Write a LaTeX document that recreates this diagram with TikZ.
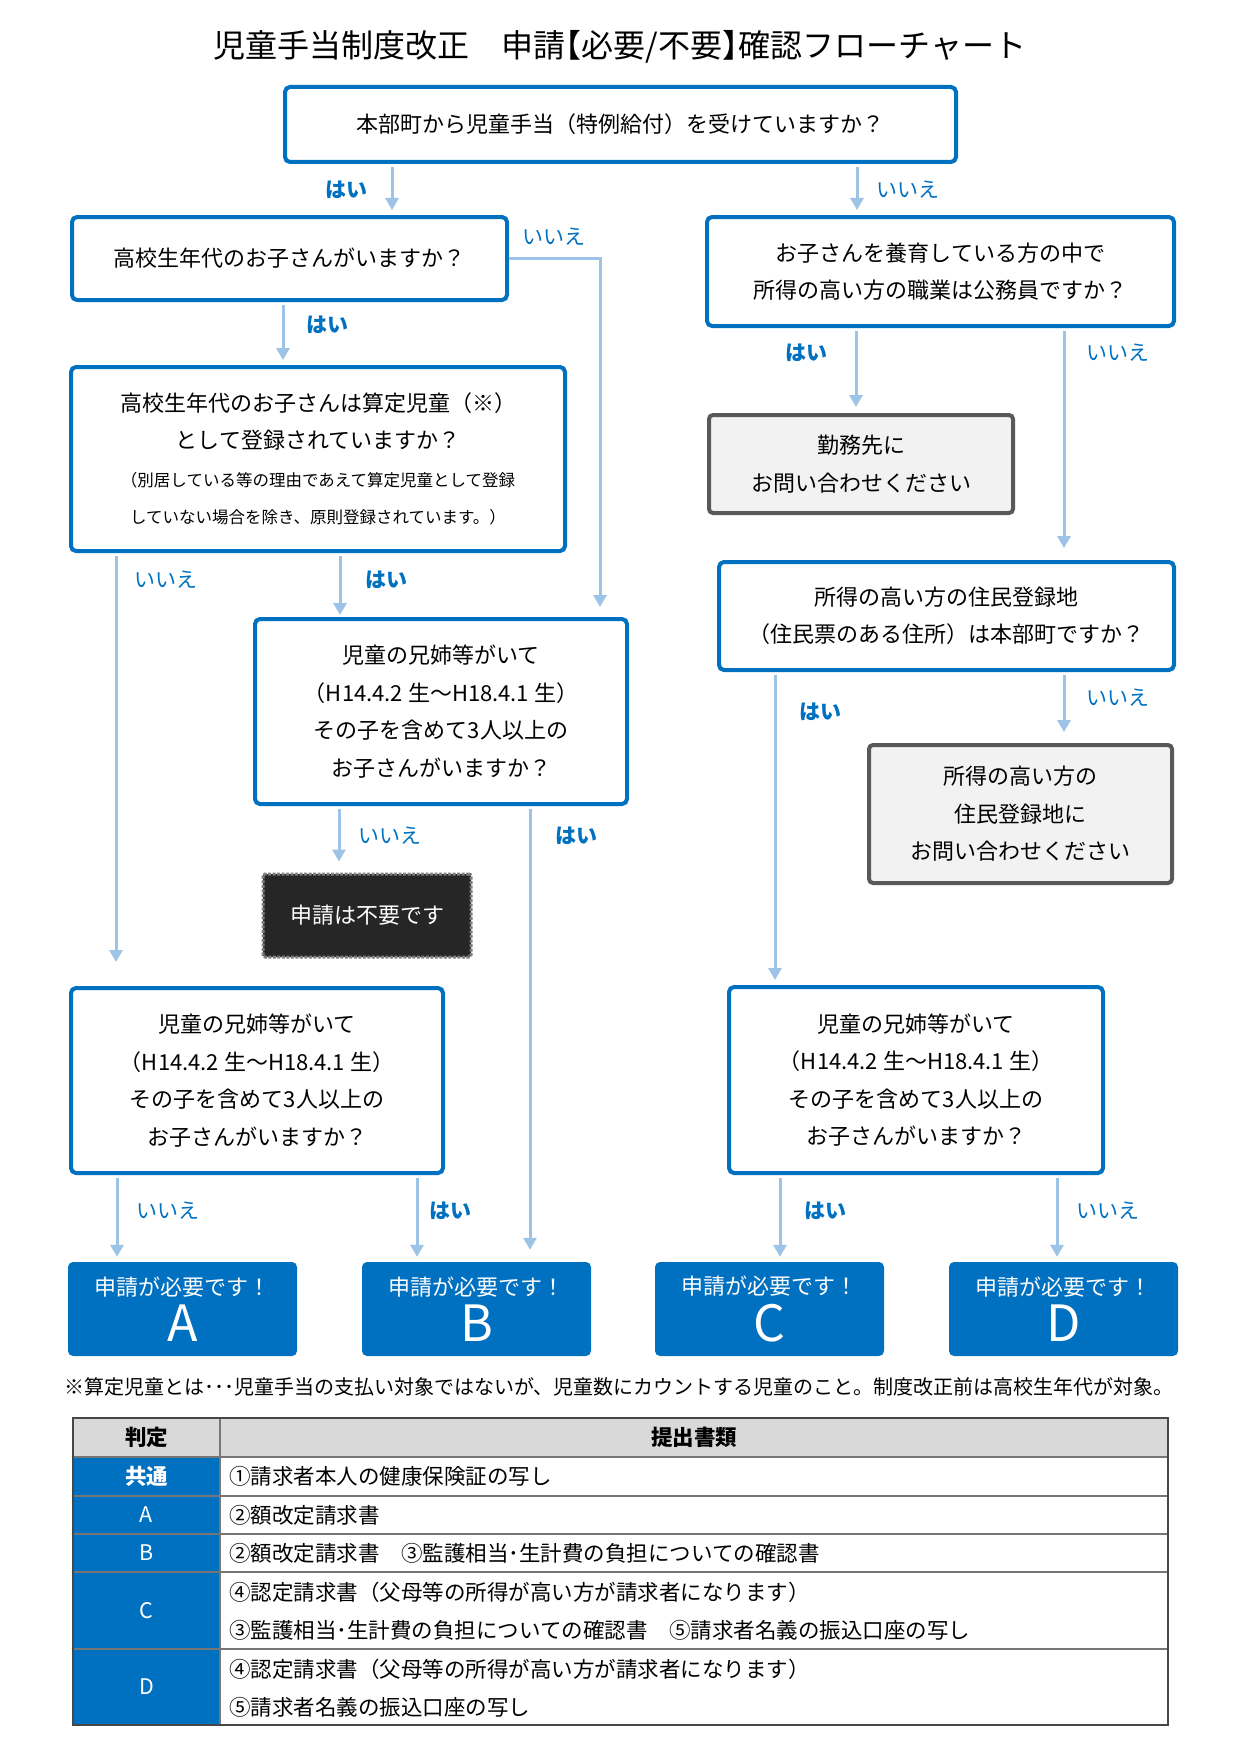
\documentclass[tikz,border=0pt]{standalone}
\usepackage{fontspec}
\setmainfont{Noto Sans CJK JP}
\usepackage{tikz}
\usetikzlibrary{arrows.meta}
\definecolor{qblue}{RGB}{0,112,192}
\definecolor{arrblue}{RGB}{157,195,230}
\definecolor{askline}{RGB}{89,89,89}
\definecolor{askfill}{RGB}{242,242,242}
\definecolor{stopfill}{RGB}{38,38,38}
\definecolor{stopline}{RGB}{127,127,127}
\definecolor{headgray}{RGB}{217,217,217}
\definecolor{rulegray}{RGB}{118,118,118}
\newcommand{\halfw}[1]{{\addfontfeature{RawFeature=+halt}#1}}

\begin{document}
\begin{tikzpicture}[x=1pt,y=-1pt,
  every node/.style={font=\fontsize{22}{37.5}\selectfont,align=center,inner sep=0pt},
  qbox/.style={draw=qblue,line width=4pt,rounded corners=5pt,fill=white},
  askbox/.style={draw=askline,line width=4pt,rounded corners=4pt,fill=askfill},
  stopbox/.style={draw=stopline,fill=stopfill,line width=3pt,dash pattern=on 3pt off 1.5pt,rounded corners=2pt,text=white},
  resbox/.style={fill=qblue,rounded corners=5pt,text=white,minimum width=229pt,minimum height=94pt,font=\fontsize{22}{46.5}\selectfont},
  yeslbl/.style={text=qblue,font=\fontsize{21}{25}\selectfont\bfseries},
  nolbl/.style={text=qblue,font=\fontsize{21}{25}\selectfont},
  arr/.style={arrblue,line width=3pt,-{Triangle[width=13pt,length=12pt]},shorten <=3pt,shorten >=5pt},
  cellL/.style={text=white,font=\fontsize{21.5}{25}\selectfont},
  cellR/.style={anchor=west,align=left,font=\fontsize{21.5}{38}\selectfont}]
  \useasboundingbox (0,0) rectangle (1241,1755);
  \node[font=\fontsize{32}{38}\selectfont] (title) at (620,47) {児童手当制度改正　申請\halfw{【}必要/不要\halfw{】}確認フローチャート};
  % Left column
  \node[qbox,minimum width=671pt,minimum height=75pt] (q1) at (620.5,124.5) {本部町から児童手当（特例給付）を受けていますか？};
  \node[qbox,minimum width=435pt,minimum height=83pt] (q2) at (289.5,258.5) {高校生年代のお子さんがいますか？};
  \node[qbox,minimum width=494pt,minimum height=184pt] (q3) at (318,459) {高校生年代のお子さんは算定児童（※）\\として登録されていますか？\\{\fontsize{16.5}{20}\selectfont（別居している等の理由であえて算定児童として登録}\\{\fontsize{16.5}{20}\selectfont していない場合を除き、原則登録されています。）}};
  \node[qbox,minimum width=372pt,minimum height=185pt] (q4) at (441,711.5) {児童の兄姉等がいて\\（H14.4.2 生～H18.4.1 生）\\その子を含めて3人以上の\\お子さんがいますか？};
  \node[stopbox,minimum width=208pt,minimum height=83pt] (stop) at (367,915.5) {申請は不要です};
  \node[qbox,minimum width=372pt,minimum height=185pt] (q5) at (257,1080.5) {児童の兄姉等がいて\\（H14.4.2 生～H18.4.1 生）\\その子を含めて3人以上の\\お子さんがいますか？};
  % Right column
  \node[qbox,minimum width=467pt,minimum height=109pt] (q6) at (940.5,271.5) {お子さんを養育している方の中で\\所得の高い方の職業は公務員ですか？};
  \node[askbox,minimum width=304pt,minimum height=98pt] (ask1) at (861,464) {勤務先に\\お問い合わせください};
  \node[qbox,minimum width=455pt,minimum height=108pt] (q7) at (946.5,616) {所得の高い方の住民登録地\\（住民票のある住所）は本部町ですか？};
  \node[askbox,minimum width=303pt,minimum height=138pt] (ask2) at (1020.5,814) {所得の高い方の\\住民登録地に\\お問い合わせください};
  \node[qbox,minimum width=374pt,minimum height=186pt] (q8) at (916,1080) {児童の兄姉等がいて\\（H14.4.2 生～H18.4.1 生）\\その子を含めて3人以上の\\お子さんがいますか？};
  % Results
  \foreach \l/\x in {A/182.5,B/476.5,C/769.5,D/1063.5}
    \node[resbox] (res\l) at (\x,1309) {申請が必要です！\\{\fontsize{50}{50}\selectfont \l}};
  % Arrows
  \draw[arr] (q1.south -| 392,0) -- (q2.north -| 392,0);
  \draw[arr] (q1.south -| 857,0) -- (q6.north -| 857,0);
  \draw[arr] (q2.south -| 283,0) -- (q3.north -| 283,0);
  \draw[arr,shorten <=0pt,shorten >=10pt] (q2.east) -| (q4.north -| 600,0);
  \draw[arr,shorten >=24pt] (q3.south -| 116,0) -- (q5.north -| 116,0);
  \draw[arr,shorten >=2pt] (q3.south -| 340,0) -- (q4.north -| 340,0);
  \draw[arr,shorten >=11pt] (q4.south -| 339,0) -- (stop.north -| 339,0);
  \draw[arr,shorten >=12pt] (q4.south -| 530,0) -- (resB.north -| 530,0);
  \draw[arr] (q5.south -| 117,0) -- (resA.north -| 117,0);
  \draw[arr] (q5.south -| 417,0) -- (resB.north -| 417,0);
  \draw[arr,shorten >=6pt] (q6.south -| 856,0) -- (ask1.north -| 856,0);
  \draw[arr,shorten >=12pt] (q6.south -| 1064,0) -- (q7.north -| 1064,0);
  \draw[arr] (q7.south -| 775,0) -- (q8.north -| 775,0);
  \draw[arr,shorten >=11pt] (q7.south -| 1064,0) -- (ask2.north -| 1064,0);
  \draw[arr] (q8.south -| 780,0) -- (resC.north -| 780,0);
  \draw[arr] (q8.south -| 1057,0) -- (resD.north -| 1057,0);
  % Arrow labels
  \node[yeslbl] (l1y) at (346,190) {はい};
  \node[nolbl] (l1n) at (908,190) {いいえ};
  \node[nolbl] (l2n) at (554,237) {いいえ};
  \node[yeslbl] (l2y) at (327,325) {はい};
  \node[nolbl] (l3n) at (166,580) {いいえ};
  \node[yeslbl] (l3y) at (386,580) {はい};
  \node[nolbl] (l4n) at (390,836) {いいえ};
  \node[yeslbl] (l4y) at (576,836) {はい};
  \node[nolbl] (l5n) at (168,1211) {いいえ};
  \node[yeslbl] (l5y) at (450,1211) {はい};
  \node[yeslbl] (l6y) at (806,353) {はい};
  \node[nolbl] (l6n) at (1118,353) {いいえ};
  \node[yeslbl] (l7y) at (820,712) {はい};
  \node[nolbl] (l7n) at (1118,698) {いいえ};
  \node[yeslbl] (l8y) at (825,1211) {はい};
  \node[nolbl] (l8n) at (1108,1211) {いいえ};
  % Footnote
  \node[anchor=west,font=\fontsize{20}{24}\selectfont] (note) at (64,1387) {※算定児童とは･･･児童手当の支払い対象ではないが、児童数にカウントする児童のこと。制度改正前は高校生年代が対象。};
  % Table
  \fill[headgray] (73,1418) rectangle (1168,1457);
  \fill[qblue] (73,1457) rectangle (220,1725);
  \foreach \y in {1457,1496,1534,1572,1649}
    \draw[rulegray,line width=1.5pt] (73,\y) -- (1168,\y);
  \draw[rulegray,line width=1.5pt] (220,1418) -- (220,1725);
  \draw[rulegray!60!black,line width=2pt] (73,1418) rectangle (1168,1725);
  \node[font=\fontsize{21.5}{25}\selectfont\bfseries] (th1) at (146.5,1437.5) {判定};
  \node[font=\fontsize{21.5}{25}\selectfont\bfseries] (th2) at (694,1437.5) {提出書類};
  \node[cellL,font=\fontsize{21.5}{25}\selectfont\bfseries] (k0) at (146.5,1476.5) {共通};
  \node[cellL] (kA) at (146.5,1515) {A};
  \node[cellL] (kB) at (146.5,1553) {B};
  \node[cellL] (kC) at (146.5,1610.5) {C};
  \node[cellL] (kD) at (146.5,1687) {D};
  \node[cellR] (d0) at (229,1476.5) {①請求者本人の健康保険証の写し};
  \node[cellR] (dA) at (229,1515) {②額改定請求書};
  \node[cellR] (dB) at (229,1553) {②額改定請求書　③監護相当･生計費の負担についての確認書};
  \node[cellR] (dC) at (229,1611) {④認定請求書（父母等の所得が高い方が請求者になります）\\③監護相当･生計費の負担についての確認書　⑤請求者名義の振込口座の写し};
  \node[cellR] (dD) at (229,1688) {④認定請求書（父母等の所得が高い方が請求者になります）\\⑤請求者名義の振込口座の写し};
\end{tikzpicture}
\end{document}
